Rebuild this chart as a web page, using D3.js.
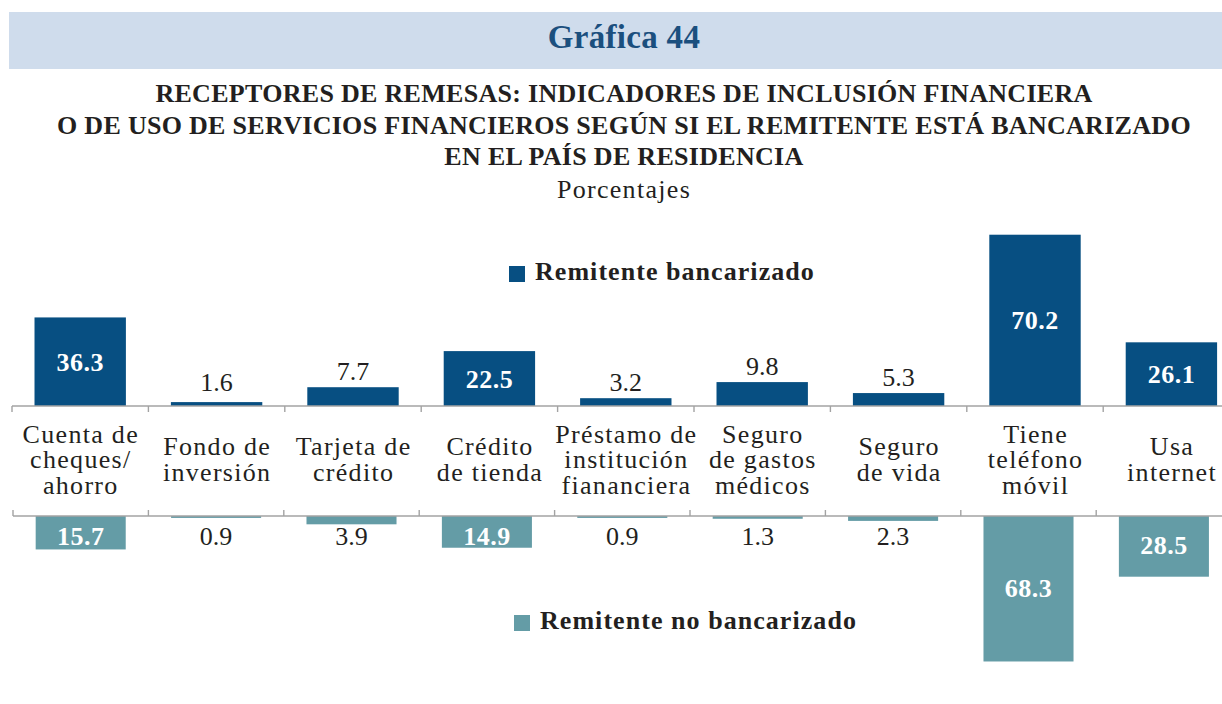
<!DOCTYPE html>
<html>
<head>
<meta charset="utf-8">
<script src="https://cdn.jsdelivr.net/npm/d3@7"></script>
<style>
  svg text { font-family: "Liberation Serif", serif; }
</style>
</head>
<body style="margin:0">
<script>
// Indicadores de inclusión financiera por condición bancaria del remitente
const categories = [
  "Cuenta de cheques/ ahorro",
  "Fondo de inversión",
  "Tarjeta de crédito",
  "Crédito de tienda",
  "Préstamo de institución fiananciera",
  "Seguro de gastos médicos",
  "Seguro de vida",
  "Tiene teléfono móvil",
  "Usa internet"
];
// Renglones de cada etiqueta de categoría
const categoryLines = [
  ["Cuenta de", "cheques/", "ahorro"],
  ["Fondo de", "inversión"],
  ["Tarjeta de", "crédito"],
  ["Crédito", "de tienda"],
  ["Préstamo de", "institución", "fiananciera"],
  ["Seguro", "de gastos", "médicos"],
  ["Seguro", "de vida"],
  ["Tiene", "teléfono", "móvil"],
  ["Usa", "internet"]
];
const bancarizado   = [36.3, 1.6, 7.7, 22.5, 3.2, 9.8, 5.3, 70.2, 26.1];
const noBancarizado = [15.7, 0.9, 3.9, 14.9, 0.9, 1.3, 2.3, 68.3, 28.5];
const seriesNames = ["Remitente bancarizado", "Remitente no bancarizado"];
const titleLines = [
  "RECEPTORES DE REMESAS: INDICADORES DE INCLUSIÓN FINANCIERA",
  "O DE USO DE SERVICIOS FINANCIEROS SEGÚN SI EL REMITENTE ESTÁ BANCARIZADO",
  "EN EL PAÍS DE RESIDENCIA"
];
const chartNumber = "Gráfica 44";
const unitsLabel = "Porcentajes";

const W = 1222, H = 704;
const FONT_STYLE = "font-family: 'Liberation Serif', serif";
const colTop = "#074f82";
const colBot = "#649ca6";
const axisCol = "#a3a3a3";
const ink = "#231f20";
const insideMin = 10; // valores a partir de este nivel van dentro de la barra

const svg = d3.select("body").append("svg")
  .attr("width", W).attr("height", H);

// Texto con la familia tipográfica serif en línea
function txt(parent) {
  return parent.append("text")
    .attr("style", FONT_STYLE)
    .attr("font-family", "Liberation Serif");
}

svg.append("rect").attr("width", W).attr("height", H).attr("fill", "#fff");

// Encabezado
svg.append("rect")
  .attr("x", 9).attr("y", 12).attr("width", W - 9).attr("height", 57)
  .attr("fill", "#cfdcec");
txt(svg)
  .attr("x", 624).attr("y", 48)
  .attr("text-anchor", "middle")
  .attr("font-size", 33).attr("font-weight", "bold")
  .attr("letter-spacing", 0.3)
  .attr("fill", "#1b4f7e")
  .text(chartNumber);

const titleY = [102, 133.5, 165];
titleLines.forEach((line, i) => {
  txt(svg)
    .attr("x", 624).attr("y", titleY[i])
    .attr("text-anchor", "middle")
    .attr("font-size", 26).attr("font-weight", "bold")
    .attr("letter-spacing", 0.3)
    .attr("fill", ink)
    .text(line);
});

txt(svg)
  .attr("x", 624).attr("y", 198)
  .attr("text-anchor", "middle")
  .attr("font-size", 26).attr("letter-spacing", 1.3)
  .attr("fill", ink)
  .text(unitsLabel);

// Escalas
const step = 136.4;
const xTop = d3.scaleBand().domain(categories)
  .range([12, 12 + step * categories.length]).padding(0);
const xTopBar = d3.scaleBand().domain(categories)
  .range(xTop.range()).paddingInner(0.33).paddingOuter(0.165);

const stepB = 135.4;
const xBot = d3.scaleBand().domain(categories)
  .range([13, 13 + stepB * categories.length]).padding(0);
const xBotBar = d3.scaleBand().domain(categories)
  .range(xBot.range()).paddingInner(0.335).paddingOuter(0.1675);

const axisTopY = 406, axisBotY = 516;
const yTop = d3.scaleLinear().domain([0, 80]).range([axisTopY, axisTopY - 80 * 2.44]);
const yBot = d3.scaleLinear().domain([0, 80]).range([axisBotY, axisBotY + 80 * 2.13]);

const topData = categories.map((c, i) => ({ c, v: bancarizado[i] }));
const botData = categories.map((c, i) => ({ c, v: noBancarizado[i] }));

// Barras superiores (hacia arriba) e inferiores (hacia abajo)
svg.append("g").selectAll("rect").data(topData).join("rect")
  .attr("x", d => xTopBar(d.c))
  .attr("y", d => yTop(d.v))
  .attr("width", xTopBar.bandwidth())
  .attr("height", d => yTop(0) - yTop(d.v))
  .attr("fill", colTop);

svg.append("g").selectAll("rect").data(botData).join("rect")
  .attr("x", d => xBotBar(d.c))
  .attr("y", yBot(0))
  .attr("width", xBotBar.bandwidth())
  .attr("height", d => yBot(d.v) - yBot(0))
  .attr("fill", colBot);

// Ejes con marcas en los límites de cada categoría
function drawAxis(scale, y, dir) {
  const g = svg.append("g");
  const [r0, r1] = scale.range();
  g.append("line")
    .attr("x1", r0).attr("x2", r1).attr("y1", y).attr("y2", y)
    .attr("stroke", axisCol).attr("stroke-width", 1.4);
  g.selectAll("line.tick").data(scale.domain()).join("line")
    .attr("class", "tick")
    .attr("x1", d => scale(d)).attr("x2", d => scale(d))
    .attr("y1", y).attr("y2", y + dir * 6)
    .attr("stroke", axisCol).attr("stroke-width", 1.4);
}
drawAxis(xTop, axisTopY, 1);
drawAxis(xBot, axisBotY, -1);

// Etiquetas de categoría
const lineH = 25.5, midBase = 468;
const catG = svg.append("g");
categories.forEach((c, i) => {
  const lines = categoryLines[i];
  const first = midBase - (lines.length - 1) / 2 * lineH;
  const t = txt(catG)
    .attr("text-anchor", "middle")
    .attr("font-size", 26).attr("letter-spacing", 1.3)
    .attr("fill", ink);
  lines.forEach((ln, j) => {
    t.append("tspan")
      .attr("x", xTop(c) + xTop.bandwidth() / 2 + 0.6)
      .attr("y", first + j * lineH)
      .text(ln);
  });
});

// Valores de ambas series
function valueLabels(data, xs, yOf) {
  const g = svg.append("g");
  data.forEach(d => {
    const inside = d.v >= insideMin;
    txt(g)
      .attr("x", xs(d.c) + xs.bandwidth() / 2)
      .attr("y", yOf(d, inside))
      .attr("text-anchor", "middle")
      .attr("font-size", 26)
      .attr("font-weight", inside ? "bold" : "normal")
      .attr("letter-spacing", inside ? 0.5 : 0)
      .attr("fill", inside ? "#ffffff" : ink)
      .text(d.v.toFixed(1));
  });
}
valueLabels(topData, xTopBar, (d, inside) =>
  inside ? (yTop(d.v) + yTop(0)) / 2 + 9 : Math.min(391, yTop(d.v) - 7));
valueLabels(botData, xBotBar, (d, inside) =>
  inside ? Math.max(545, (yBot(d.v) + yBot(0)) / 2 + 8) : 545);

// Leyendas
const legends = [
  { name: seriesNames[0], color: colTop, sx: 509, sy: 266, tx: 535, ty: 280 },
  { name: seriesNames[1], color: colBot, sx: 514, sy: 615, tx: 540, ty: 629 }
];
const lg = svg.append("g");
legends.forEach(l => {
  lg.append("rect").attr("x", l.sx).attr("y", l.sy)
    .attr("width", 16).attr("height", 16).attr("fill", l.color);
  txt(lg).attr("x", l.tx).attr("y", l.ty)
    .attr("font-size", 26).attr("font-weight", "bold")
    .attr("letter-spacing", 1.05)
    .attr("fill", ink)
    .text(l.name);
});
</script>
</body>
</html>
